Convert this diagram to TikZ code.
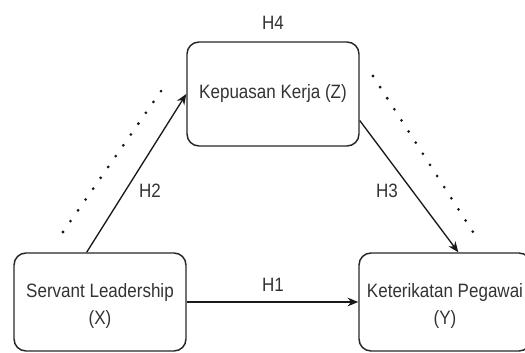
\documentclass[tikz,border=0pt]{standalone}
\usepackage{fontspec}
\setmainfont[FakeStretch=0.88]{Liberation Sans}
\usetikzlibrary{arrows.meta}
\newcommand{\tikzUnit}{0.75pt}
\newcommand{\boxWidth}{129pt}
\newcommand{\boxHeight}{73.5pt}
\newcommand{\dotGap}{9.9pt}
\newcommand{\varText}[2]{\raisebox{-6pt}[0pt][0pt]{\begin{tabular}{@{}c@{}}#1\\#2\end{tabular}}}

\begin{document}
\begin{tikzpicture}[x=\tikzUnit, y=-\tikzUnit,
    every node/.style={font=\fontsize{14.5}{20.5}\selectfont, text=black!80},
    varbox/.style={draw=black!85, line width=1.1pt, rounded corners=9pt,
      minimum width=\boxWidth, minimum height=\boxHeight, align=center},
    link/.style={-{Stealth[length=8pt,width=6.5pt]}, line width=1pt, draw=black!90},
    dotline/.style={line width=2.3pt, line cap=round, dash pattern=on 0pt off \dotGap, draw=black!90}]
  \useasboundingbox (0,0) rectangle (525,353);
  % variables
  \node (kepuasan) [varbox, minimum height=78pt] at (273,94) {Kepuasan Kerja (Z)};
  \node (servant) [varbox] at (100,302) {\varText{Servant Leadership}{(X)}};
  \node (keterikatan) [varbox] at (445,302) {\varText{Keterikatan Pegawai}{(Y)}};
  % hypotheses
  \draw [link] (servant.105) -- (kepuasan.west);
  \draw [link] (kepuasan.-17) -- (keterikatan.75);
  \draw [link] (servant) -- (keterikatan);
  \node (hFour) at (273,23) {H4};
  \node (hOne) at (273,285) {H1};
  \node (hTwo) at (150,191) {H2};
  \node (hThree) at (387,191) {H3};
  % mediation path
  \coordinate (leftLow) at (63,232);
  \coordinate (leftHigh) at (168,81);
  \coordinate (rightHigh) at (373,76);
  \coordinate (rightLow) at (473,232);
  \draw [dotline] (leftLow) -- (leftHigh);
  \draw [dotline] (rightHigh) -- (rightLow);
\end{tikzpicture}
\end{document}
